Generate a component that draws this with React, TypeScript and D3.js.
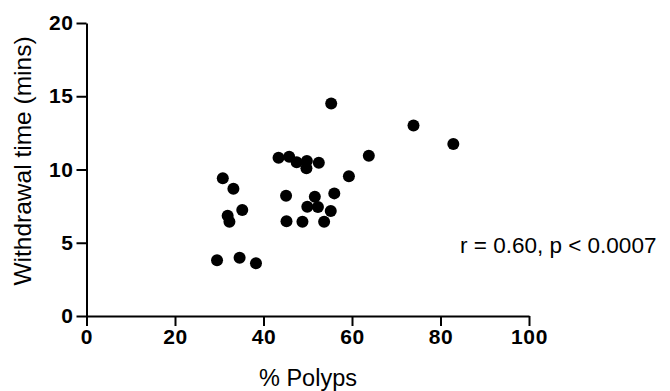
import React, { useRef, useEffect } from 'react';
import * as d3 from 'd3';

// % polyps vs withdrawal time (mins)
const polyps = [
  55.3, 43.4, 45.8, 47.5, 49.8, 49.7, 52.5, 63.8, 59.3, 30.8, 33.2, 45.1, 56.0, 51.6,
  49.9, 52.3, 55.2, 35.2, 31.9, 32.3, 45.2, 48.8, 53.7, 29.5, 34.6, 38.3, 73.9, 82.9,
];
const withdrawal = [
  14.5, 10.8, 10.87, 10.49, 10.58, 10.08, 10.46, 10.94, 9.54, 9.4, 8.69, 8.21, 8.37, 8.14,
  7.46, 7.44, 7.17, 7.24, 6.85, 6.44, 6.46, 6.44, 6.44, 3.8, 3.98, 3.6, 13.0, 11.74,
];
const xTicks = [0, 20, 40, 60, 80, 100];
const yTicks = [0, 5, 10, 15, 20];
const annotation = 'r = 0.60, p < 0.0007';

const width = 670;
const height = 391;

const App = () => {
  const svgRef = useRef<SVGSVGElement>(null);

  useEffect(() => {
    const svg = d3.select(svgRef.current);
    svg.selectAll('*').remove();

    const x = d3.scaleLinear().domain([0, 100]).range([86.5, 529]);
    const y = d3.scaleLinear().domain([0, 20]).range([316, 23]);
    const font = 'Arial, "Liberation Sans", sans-serif';

    const xAxis = svg.append('g')
      .attr('transform', `translate(0, ${y(0)})`)
      .call(d3.axisBottom(x).tickValues(xTicks).tickSize(10).tickPadding(3).tickSizeOuter(0));
    const yAxis = svg.append('g')
      .attr('transform', `translate(${x(0)}, 0)`)
      .call(d3.axisLeft(y).tickValues(yTicks).tickSize(10).tickPadding(3).tickSizeOuter(0));

    [xAxis, yAxis].forEach(g => {
      g.select('.domain').attr('stroke', '#000').attr('stroke-width', 2);
      g.selectAll('.tick line').attr('stroke', '#000').attr('stroke-width', 2);
      g.selectAll('.tick text')
        .attr('fill', '#000')
        .style('font-family', font)
        .style('font-size', '21px')
        .style('letter-spacing', '0.6px')
        .style('font-weight', 'bold');
    });

    const data = polyps.map((p, i) => ({ x: p, y: withdrawal[i] }));
    svg.append('g')
      .selectAll('circle')
      .data(data)
      .enter()
      .append('circle')
      .attr('cx', d => x(d.x))
      .attr('cy', d => y(d.y))
      .attr('r', 6)
      .attr('fill', '#000');

    svg.append('text')
      .attr('x', 308)
      .attr('y', 386)
      .attr('text-anchor', 'middle')
      .style('font-family', font)
      .style('font-size', '23.5px')
      .text('% Polyps');

    svg.append('text')
      .attr('transform', `translate(31, 161) rotate(-90)`)
      .attr('text-anchor', 'middle')
      .style('font-family', font)
      .style('font-size', '24.5px')
      .text('Withdrawal time (mins)');

    svg.append('text')
      .attr('x', 460)
      .attr('y', 253)
      .style('font-family', font)
      .style('font-size', '22.5px')
      .text(annotation);
  }, []);

  return (
    <svg
      ref={svgRef}
      width={width}
      height={height}
      style={{ position: 'absolute', left: 0, top: 0, background: '#fff' }}
    ></svg>
  );
};

export default App;
